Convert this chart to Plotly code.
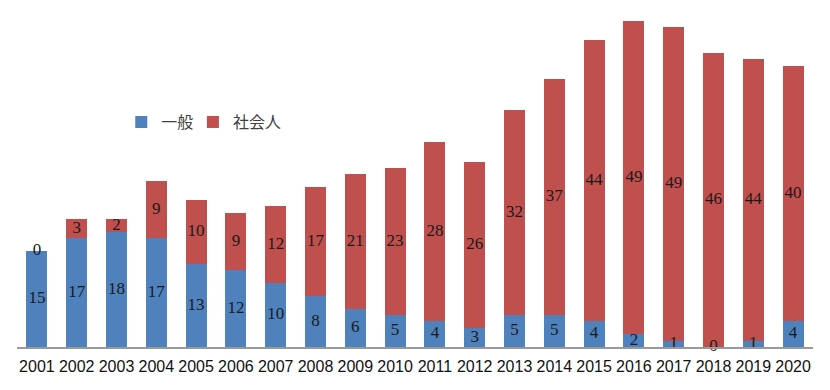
import plotly.graph_objects as go

years = [str(y) for y in range(2001, 2021)]
ippan = [15, 17, 18, 17, 13, 12, 10, 8, 6, 5, 4, 3, 5, 5, 4, 2, 1, 0, 1, 4]
shakaijin = [0, 3, 2, 9, 10, 9, 12, 17, 21, 23, 28, 26, 32, 37, 44, 49, 49, 46, 44, 40]

BLUE = "#4F81BD"
RED = "#C0504D"

fig = go.Figure()
fig.add_trace(go.Bar(x=years, y=ippan, name="一般", marker=dict(color=BLUE, line=dict(width=0)),
                     legend="legend"))
fig.add_trace(go.Bar(x=years, y=shakaijin, name="社会人", marker=dict(color=RED, line=dict(width=0)),
                     legend="legend2"))

# value labels at segment midpoints
lab_x = years + years
lab_y = [v / 2 for v in ippan] + [a + b / 2 for a, b in zip(ippan, shakaijin)]
lab_t = [str(v) for v in ippan] + [str(v) for v in shakaijin]
fig.add_trace(go.Scatter(x=lab_x, y=lab_y, text=lab_t, mode="text", showlegend=False,
                         textfont=dict(family="Liberation Serif", size=17, color="#1a1a1a"),
                         hoverinfo="skip", cliponaxis=False))

leg_common = dict(orientation="h", y=0.69, xanchor="left", yanchor="middle",
                  font=dict(family="Noto Sans CJK JP", size=16, color="#404040"),
                  bgcolor="rgba(0,0,0,0)", itemwidth=30)

fig.update_layout(
    barmode="stack",
    bargap=0.47,
    width=822, height=382,
    margin=dict(l=9, r=17, t=13, b=43),
    paper_bgcolor="white", plot_bgcolor="white",
    showlegend=True,
    legend=dict(x=0.131, **leg_common),
    legend2=dict(x=0.221, **leg_common),
    xaxis=dict(type="category", range=[-0.5, 19.5], showline=True, linecolor="#999999", linewidth=2,
               ticks="outside", ticklen=4, tickcolor="rgba(0,0,0,0)", tickangle=0,
               automargin=False,
               tickfont=dict(family="Liberation Sans, Arial, sans-serif", size=16, color="#111111"),
               showgrid=False, zeroline=False),
    yaxis=dict(range=[0, 51], visible=False, showgrid=False, zeroline=False, automargin=False),
)

fig.write_html("out.html")
